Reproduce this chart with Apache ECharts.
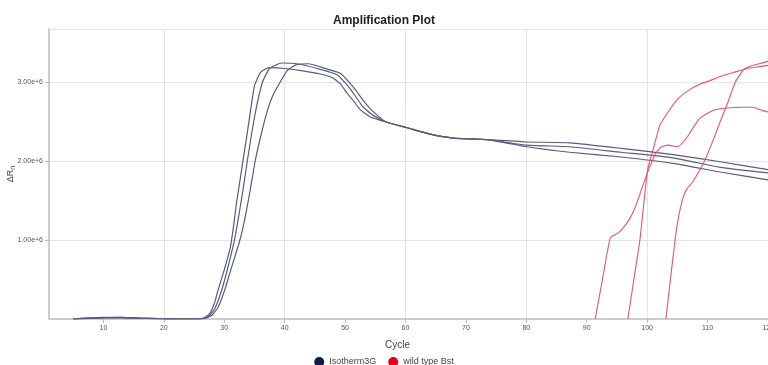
<!DOCTYPE html>
<html>
<head>
<meta charset="utf-8">
<script src="https://cdn.jsdelivr.net/npm/echarts@6/dist/echarts.min.js"></script>
<style>
html,body{margin:0;padding:0;background:#fff;}
#chart{width:768px;height:365px;}
</style>
</head>
<body>
<div id="chart"></div>
<script>
// Values in units of 1e6 (ΔRn)
const iso1Cycles = [5,7,10,13,16,19,22,25,26.5,27.5,28.3,29,30,31,31.5,32,32.5,33,34,35,36,37,37.6,40,43,45.9,48,49.3,50.3,51.5,52.5,54.1,56.9,60.3,64.1,67.9,73.5,80.1,87.2,95.7,104.3,112.1,120];
const iso1Values = [0,0.01,0.02,0.02,0.01,0.005,0,0,0.01,0.06,0.18,0.37,0.62,0.9,1.15,1.45,1.7,1.95,2.45,2.95,3.12,3.17,3.18,3.17,3.14,3.10,3.05,2.97,2.86,2.75,2.65,2.56,2.49,2.42,2.34,2.29,2.27,2.18,2.11,2.05,1.97,1.86,1.76];

const iso2Cycles = [5,7,10,13,16,19,22,25,26.5,27.5,28.5,29.6,30.5,31.7,32.5,33.1,33.8,35,36.3,37.5,39.5,42,45.9,48.7,50.8,53,54.6,56.9,60.3,64.1,67.9,73.5,80.1,87.2,95.7,104.3,112.1,120];
const iso2Values = [0,0.01,0.015,0.02,0.01,0.005,0,0,0.005,0.04,0.14,0.37,0.62,1.0,1.35,1.63,1.99,2.55,2.99,3.17,3.24,3.23,3.16,3.09,2.92,2.68,2.58,2.49,2.42,2.34,2.29,2.27,2.20,2.18,2.11,2.04,1.92,1.85];

const iso3Cycles = [5,7,10,13,16,19,22,25,27,28,29,30.1,31,32.6,33.5,34.3,35.1,36,37,38,39.2,40.5,42,44,45.9,49.2,51.3,53.6,55.3,56.9,60.3,64.1,67.9,73.5,80.1,87.2,95.7,104.3,112.1,120];
const iso3Values = [0,0.005,0.015,0.015,0.01,0.005,0,0,0.01,0.05,0.15,0.37,0.6,1.0,1.3,1.63,1.99,2.3,2.6,2.82,2.99,3.15,3.22,3.23,3.19,3.11,2.94,2.71,2.58,2.49,2.42,2.34,2.29,2.27,2.24,2.23,2.16,2.08,1.99,1.89];

const wt1Cycles = [91.4,92.6,93.9,95.0,95.8,97.2,98.2,99.2,100.3,101.3,102.2,103.5,105.1,106.6,107.6,108.7,110.9,113.2,115.5,117.5,119,120];
const wt1Values = [0,0.5,1.03,1.08,1.13,1.28,1.45,1.67,1.9,2.08,2.17,2.2,2.18,2.3,2.42,2.54,2.64,2.67,2.68,2.68,2.64,2.62];

const wt2Cycles = [96.8,97.8,98.8,99.5,100.1,100.9,102.1,103.3,105.0,106.8,108.7,110.5,112.1,114.3,116.5,118.3,120];
const wt2Values = [0,0.5,1.0,1.5,1.9,2.12,2.45,2.6,2.78,2.89,2.97,3.02,3.07,3.12,3.17,3.19,3.21];

const wt3Cycles = [103.1,104.0,104.9,105.8,106.6,107.6,109.3,110.6,112.1,113.4,114.6,115.9,117.0,118.5,120];
const wt3Values = [0,0.6,1.16,1.5,1.65,1.74,1.97,2.2,2.5,2.75,3.0,3.15,3.2,3.23,3.26];

const seriesNames = ['Isotherm3G','wild type Bst'];
const yTicks = ['1.00e+6','2.00e+6','3.00e+6'];

function pairs(xs, ys){ return xs.map((x,i)=>[x, ys[i]]); }

const navy = '#0b1a4e', navyLine = '#555d7d';
const red = '#e3001b', redLine = '#e2566c';

function mk(name, xs, ys, isIso){
  return {
    name: name, type: 'line', data: pairs(xs, ys),
    showSymbol: false, smooth: 0.15,
    itemStyle: {color: isIso ? navy : red},
    lineStyle: {color: isIso ? navyLine : redLine, width: isIso ? 1.2 : 1.1},
    emphasis: {disabled: true}, silent: true
  };
}

const chart = echarts.init(document.getElementById('chart'), null, {renderer:'canvas'});
chart.setOption({
  animation: false,
  backgroundColor: '#ffffff',
  title: {
    text: 'Amplification Plot', left: 'center', top: 10,
    textStyle: {fontSize: 12, fontWeight: 'bold', color: '#222', fontFamily: 'Liberation Sans, Arial, sans-serif'}
  },
  legend: {
    data: seriesNames, top: 352, left: 'center', icon: 'circle',
    itemWidth: 10, itemHeight: 10, itemGap: 12,
    textStyle: {fontSize: 9, color: '#444', fontFamily: 'Liberation Sans, Arial, sans-serif'}
  },
  grid: {left: 49, right: 0, top: 29, bottom: 46, containLabel: false, outerBoundsMode: 'none'},
  xAxis: [{
    type: 'value', min: 1, max: 120, splitNumber: 12,
    name: 'Cycle', nameLocation: 'middle', nameGap: 21,
    nameTextStyle: {fontSize: 10, color: '#444', padding: [0, 22, 0, 0], fontFamily: 'Liberation Sans, Arial, sans-serif'},
    axisLine: {show: true, lineStyle: {color: '#cccccc', width: 2}},
    axisTick: {show: true, length: 4, lineStyle: {color: '#bbbbbb'}},
    axisLabel: {fontSize: 7, color: '#555', margin: 6, showMinLabel: false, showMaxLabel: true},
    splitLine: {show: false}
  }, {
    type: 'value', min: 1, max: 120, splitNumber: 6, position: 'bottom',
    axisLine: {show: false}, axisTick: {show: false}, axisLabel: {show: false},
    splitLine: {show: true, lineStyle: {color: '#e4e4e4', width: 1}}
  }],
  yAxis: {
    type: 'value', min: 0, max: 3.67, interval: 1,
    name: '{a|ΔR}{b|n}', nameLocation: 'middle', nameGap: 32, nameRotate: 90, nameMoveOverlap: false,
    nameTextStyle: {color: '#444', rich: {a: {fontSize: 9, color: '#444'}, b: {fontSize: 7, color: '#444', padding: [6, 0, 0, 0]}}},
    axisLine: {show: true, lineStyle: {color: '#cccccc', width: 2}},
    axisTick: {show: true, length: 4, lineStyle: {color: '#bbbbbb'}},
    axisLabel: {fontSize: 7, color: '#555', margin: 6, showMinLabel: false, showMaxLabel: false,
      formatter: function(v){ const i = Math.round(v) - 1; return yTicks[i] || ''; }},
    splitLine: {show: true, lineStyle: {color: '#e4e4e4', width: 1}}
  },
  series: [
    mk('Isotherm3G', iso1Cycles, iso1Values, true),
    mk('Isotherm3G', iso2Cycles, iso2Values, true),
    mk('Isotherm3G', iso3Cycles, iso3Values, true),
    mk('wild type Bst', wt1Cycles, wt1Values, false),
    mk('wild type Bst', wt2Cycles, wt2Values, false),
    mk('wild type Bst', wt3Cycles, wt3Values, false)
  ]
});
</script>
</body>
</html>
